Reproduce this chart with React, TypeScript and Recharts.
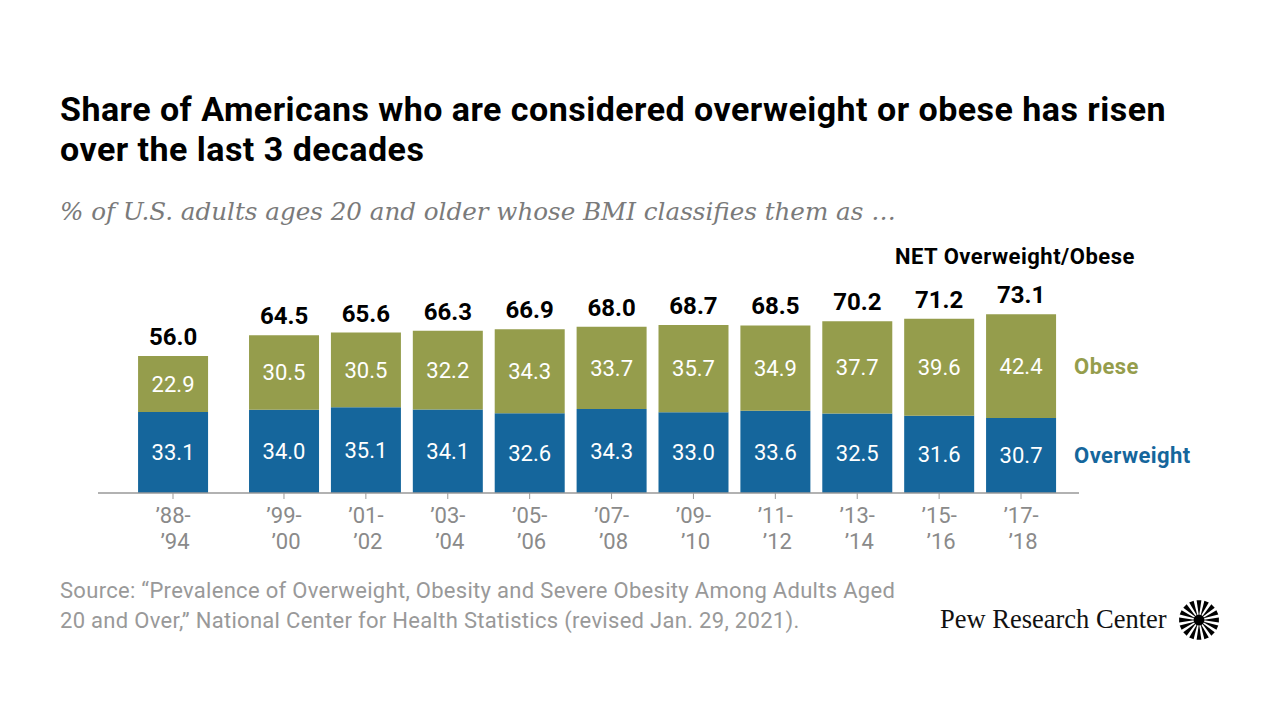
import { BarChart, Bar, XAxis, YAxis, LabelList } from "recharts"

const periods = ["’88-’94", "’99-’00", "’01-’02", "’03-’04", "’05-’06", "’07-’08", "’09-’10", "’11-’12", "’13-’14", "’15-’16", "’17-’18"]
const overweight = [33.1, 34.0, 35.1, 34.1, 32.6, 34.3, 33.0, 33.6, 32.5, 31.6, 30.7]
const obese = [22.9, 30.5, 30.5, 32.2, 34.3, 33.7, 35.7, 34.9, 37.7, 39.6, 42.4]
const net = [56.0, 64.5, 65.6, 66.3, 66.9, 68.0, 68.7, 68.5, 70.2, 71.2, 73.1]

const BLUE = "#15669c"
const OLIVE = "#959d4c"
const GRAY = "#8a8a8a"
const SANS = "Roboto, 'Liberation Sans', sans-serif"

// the first survey spans several years, so it sits a bit apart from the rest
const xPos = periods.map((_, i) => (i === 0 ? 0 : i + 0.355))

const data = periods.map((p, i) => ({
  period: p,
  pos: xPos[i],
  overweight: overweight[i],
  obese: obese[i],
  net: net[i],
}))

const PeriodTick = (props: any) => {
  const { x, y, payload } = props
  const i = xPos.indexOf(payload.value)
  const label = periods[i] || ""
  const [a, b] = [label.slice(0, 4), label.slice(4)]
  return (
    <g>
      <text x={x} y={y + 22} textAnchor="middle" fill={GRAY} fontSize={22} fontFamily={SANS}>{a}</text>
      <text x={x + 2} y={y + 48} textAnchor="middle" fill={GRAY} fontSize={22} fontFamily={SANS}>{b}</text>
    </g>
  )
}

const NetLabel = (props: any) => {
  const { x, y, width, index } = props
  return (
    <text x={x + width / 2} y={y - 11} textAnchor="middle" fill="#000" fontSize={24} fontWeight={700} fontFamily={SANS}>
      {net[index].toFixed(1)}
    </text>
  )
}

const seriesName = (name: string, color: string) => (props: any) => {
  const { x, y, width, height, index } = props
  if (index !== periods.length - 1) return null
  return (
    <text x={x + width + 18} y={y + height / 2 + 8} fill={color} fontSize={22} fontWeight={700} letterSpacing={0.4} fontFamily={SANS}>
      {name}
    </text>
  )
}

const inner = (v: any) => Number(v).toFixed(1)

export default function App() {
  return (
    <div style={{ position: "absolute", left: 0, top: 0, width: 1280, height: 720, background: "#fff", fontFamily: SANS }}>
      <div style={{ position: "absolute", left: 60, top: 89, fontSize: 34, fontWeight: 700, lineHeight: "40px", letterSpacing: 0.47, color: "#000" }}>
        Share of Americans who are considered overweight or obese has risen
        <br />
        over the last 3 decades
      </div>
      <div style={{ position: "absolute", left: 60, top: 197, fontSize: 24.6, fontStyle: "italic", color: "#7a7a7a", fontFamily: "'DejaVu Serif', 'Liberation Serif', serif" }}>
        % of U.S. adults ages 20 and older whose BMI classifies them as …
      </div>
      <div style={{ position: "absolute", left: 895, top: 244, fontSize: 22, fontWeight: 700, letterSpacing: 0.5, color: "#000" }}>
        NET Overweight/Obese
      </div>

      <div style={{ position: "absolute", left: 0, top: 0 }}>
        <BarChart width={1280} height={720} data={data} margin={{ top: 297.3, right: 201, bottom: 197, left: 98 }}>
          <XAxis
            dataKey="pos"
            type="number"
            domain={[-0.916, 11.063]}
            ticks={xPos}
            interval={0}
            allowDataOverflow
            axisLine={{ stroke: "#999", strokeWidth: 1.5 }}
            tickLine={{ stroke: "#999" }}
            tickSize={6}
            height={30}
            tick={<PeriodTick />}
          />
          <YAxis hide domain={[0, 80]} />
          <Bar dataKey="overweight" stackId="a" fill={BLUE} barSize={70} isAnimationActive={false}>
            <LabelList dataKey="overweight" position="center" fill="#fff" fontSize={22} fontFamily={SANS} formatter={inner} />
            <LabelList dataKey="overweight" content={seriesName("Overweight", BLUE)} />
          </Bar>
          <Bar dataKey="obese" stackId="a" fill={OLIVE} barSize={70} isAnimationActive={false}>
            <LabelList dataKey="obese" position="center" fill="#fff" fontSize={22} fontFamily={SANS} formatter={inner} />
            <LabelList dataKey="net" content={<NetLabel />} />
            <LabelList dataKey="obese" content={seriesName("Obese", OLIVE)} />
          </Bar>
        </BarChart>
      </div>

      <div style={{ position: "absolute", left: 60, top: 576, fontSize: 22, lineHeight: "30px", letterSpacing: 0.3, color: "#999" }}>
        Source: “Prevalence of Overweight, Obesity and Severe Obesity Among Adults Aged
        <br />
        20 and Over,” National Center for Health Statistics (revised Jan. 29, 2021).
      </div>
      <div style={{ position: "absolute", left: 940, top: 604, fontSize: 26.5, color: "#111", fontFamily: "'Liberation Serif', serif" }}>
        Pew Research Center
      </div>
      <svg style={{ position: "absolute", left: 1178, top: 599 }} width={42} height={42} viewBox="-21 -21 42 42">
        {Array.from({ length: 16 }).map((_, k) => {
          const a = (k / 16) * Math.PI * 2
          const w = 0.12
          const p = (ang: number, r: number) => `${(Math.cos(ang) * r).toFixed(2)},${(Math.sin(ang) * r).toFixed(2)}`
          return <polygon key={k} points={`${p(a - 0.05, 5)} ${p(a - w, 20)} ${p(a + w, 20)} ${p(a + 0.05, 5)}`} fill="#000" />
        })}
        <circle r={5.5} fill="#000" />
      </svg>
    </div>
  )
}
